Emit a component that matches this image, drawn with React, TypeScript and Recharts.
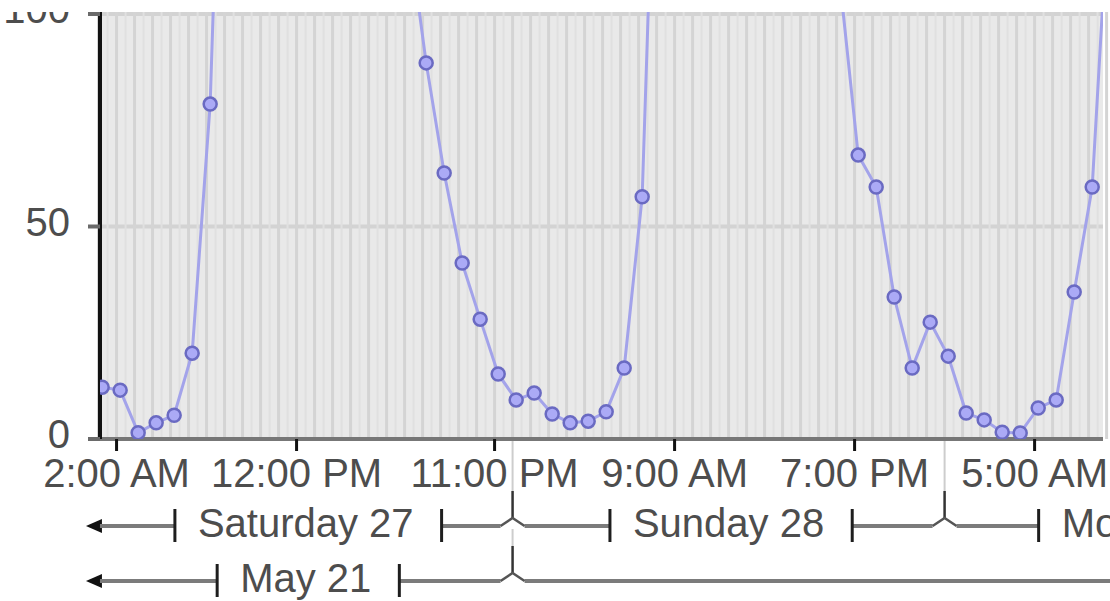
import React from 'react';
import { ComposedChart, Line, XAxis, YAxis, CartesianGrid } from 'recharts';

// hourly samples, taken 12 minutes past each hour, first one Sat 27 at 01:12
// (x values are hours counted from Saturday 00:00)
const FIRST_SAMPLE = 1.2;
const counts = [
  12.2, 11.5, 1.5, 3.8, 5.6, 20.2, 78.8,
  209, 262, 300, 322, 331, 326, 311, 284, 243, 181, 120,
  88.5, 62.6, 41.4, 28.2, 15.3, 9.2, 10.8, 5.9, 3.8, 4.2, 6.4, 16.7, 57.0,
  187, 251, 298, 318, 327, 321, 302, 263, 212, 158, 107,
  66.8, 59.3, 33.4, 16.7, 27.5, 19.5, 6.1, 4.5, 1.6, 1.4, 7.3, 9.2, 34.6, 59.3, 133,
];

const timeTicks = [2, 12, 23, 33, 43, 53];
const timeTickLabels = ['2:00 AM', '12:00 PM', '11:00 PM', '9:00 AM', '7:00 PM', '5:00 AM'];
const yTicks = [0, 50, 100];

const dayLabels = ['Saturday 27', 'Sunday 28', 'Monday 29'];
const dayStarts = [0, 24, 48];
const weekLabels = ['May 21', 'May 28'];
const weekStarts = [-144, 24];

const data = counts.map((v, i) => ({ t: FIRST_SAMPLE + i, v }));

// layout
const W = 1110;
const H = 620;
const PLOT_LEFT = 100;
const PLOT_RIGHT = 1103;
const PLOT_BOTTOM = 445;
const X_MIN = 1.08;
const X_MAX = 56.8;
const PXH = (PLOT_RIGHT - PLOT_LEFT) / (X_MAX - X_MIN);
const ARROW_TIP_H = 0.3;
const ARROW_END_H = 1.02;

const FONT = '"Liberation Sans", Arial, sans-serif';
const FONT_SIZE = 40;
const TEXT = '#4d4d4d';

const hourLines = Array.from({ length: 57 }, (_, i) => i + 1);
const halfLines = hourLines.map((h) => h + 0.5);

type Band = { label: string; start: number; end: number };
const dayBands: Band[] = dayLabels.map((label, i) => ({ label, start: dayStarts[i], end: dayStarts[i] + 24 }));
const weekBands: Band[] = weekLabels.map((label, i) => ({ label, start: weekStarts[i], end: weekStarts[i] + 168 }));

const bandCenter = (b: Band) => (Math.max(b.start, ARROW_END_H) + b.end) / 2;
const bandTicks = (bands: Band[]) => [
  ...bands.map(bandCenter),
  ...bands.slice(1).map((b) => b.start).filter((h) => h > X_MIN && h < X_MAX),
];

let ctx: CanvasRenderingContext2D | null = null;
const textWidth = (s: string) => {
  if (!ctx) ctx = document.createElement('canvas').getContext('2d');
  if (!ctx) return s.length * FONT_SIZE * 0.5;
  ctx.font = `${FONT_SIZE}px "Liberation Sans", Arial`;
  return ctx.measureText(s).width;
};

const TimeTick = ({ x, y, payload }: any) => {
  const i = timeTicks.indexOf(payload.value);
  return (
    <text x={x} y={y + 36} textAnchor="middle" fill={TEXT} fontSize={FONT_SIZE} fontFamily={FONT}>
      {timeTickLabels[i]}
    </text>
  );
};

const ValueTick = ({ x, y, payload }: any) => (
  <text x={x} y={y + 9} textAnchor="end" fill={TEXT} fontSize={FONT_SIZE} fontFamily={FONT}>
    {payload.value}
  </text>
);

const BandTick = ({ x, y, payload, bands, guideFrom }: any) => {
  const v = payload.value;
  const band = bands.find((b: Band) => Math.abs(bandCenter(b) - v) < 1e-6);
  const hx = (h: number) => x + (h - v) * PXH;
  const lineY = y + 32;

  if (!band) {
    // boundary between two periods
    return (
      <g>
        <line x1={x} x2={x} y1={guideFrom} y2={y - 3} stroke="#cdcdcd" strokeWidth={2} />
        <line x1={x} x2={x} y1={y - 3} y2={y + 24} stroke="#333" strokeWidth={2.5} />
        <polyline
          points={`${x - 12},${lineY} ${x},${y + 24} ${x + 12},${lineY}`}
          fill="none"
          stroke="#555"
          strokeWidth={2.5}
        />
      </g>
    );
  }

  const w = textWidth(band.label);
  const lb = x - w / 2 - 23;
  const rb = x + w / 2 + 28;
  const clipped = band.start < X_MIN;
  const tip = hx(ARROW_TIP_H);
  const leftEnd = clipped ? tip + 14 : hx(band.start) + 12;
  const rightEnd = hx(band.end) - 12;

  return (
    <g>
      {clipped && (
        <polygon points={`${tip},${lineY} ${tip + 16},${lineY - 7} ${tip + 16},${lineY + 7}`} fill="#111" />
      )}
      <line x1={leftEnd} x2={lb} y1={lineY} y2={lineY} stroke="#7b7b7b" strokeWidth={4} />
      {rightEnd > rb && <line x1={rb} x2={rightEnd} y1={lineY} y2={lineY} stroke="#7b7b7b" strokeWidth={4} />}
      <line x1={lb} x2={lb} y1={lineY - 17} y2={lineY + 16} stroke="#1e1e1e" strokeWidth={3} />
      <line x1={rb} x2={rb} y1={lineY - 17} y2={lineY + 16} stroke="#1e1e1e" strokeWidth={3} />
      <text x={x} y={y + 43} textAnchor="middle" fill={TEXT} fontSize={FONT_SIZE} fontFamily={FONT}>
        {band.label}
      </text>
    </g>
  );
};

export default function App() {
  return (
    <div
      style={{
        position: 'absolute',
        left: 0,
        top: 12,
        width: W,
        height: 589,
        overflow: 'hidden',
        background: '#fff',
      }}
    >
      <div style={{ position: 'absolute', left: 0, top: -18 }}>
        <ComposedChart width={W} height={H} data={data} margin={{ top: 3, right: W - PLOT_RIGHT, bottom: 10, left: 0 }}>
          <CartesianGrid fill="#e9e9e9" vertical={false} horizontalValues={yTicks} stroke="#d3d3d3" strokeWidth={4} />
          <CartesianGrid horizontal={false} verticalValues={halfLines} stroke="#e0e0e0" strokeWidth={2} />
          <CartesianGrid horizontal={false} verticalValues={hourLines} stroke="#d4d4d4" strokeWidth={3} />
          <Line
            type="linear"
            dataKey="v"
            stroke="#a3a3ea"
            strokeWidth={3}
            dot={{ r: 6.5, fill: '#abaaf6', stroke: '#6a6ac2', strokeWidth: 2.5 }}
            activeDot={false}
            isAnimationActive={false}
          />
          <XAxis
            dataKey="t"
            type="number"
            domain={[X_MIN, X_MAX]}
            allowDataOverflow
            ticks={timeTicks}
            interval={0}
            tickSize={12}
            tickMargin={0}
            tickLine={{ stroke: '#111', strokeWidth: 3 }}
            axisLine={{ stroke: '#777', strokeWidth: 4 }}
            tick={TimeTick}
            height={55}
          />
          <XAxis
            xAxisId="day"
            dataKey="t"
            type="number"
            domain={[X_MIN, X_MAX]}
            allowDataOverflow
            ticks={bandTicks(dayBands)}
            interval={0}
            axisLine={false}
            tickLine={false}
            tickSize={0}
            tickMargin={0}
            tick={(p: any) => <BandTick {...p} bands={dayBands} guideFrom={PLOT_BOTTOM + 2} />}
            height={55}
          />
          <XAxis
            xAxisId="week"
            dataKey="t"
            type="number"
            domain={[X_MIN, X_MAX]}
            allowDataOverflow
            ticks={bandTicks(weekBands)}
            interval={0}
            axisLine={false}
            tickLine={false}
            tickSize={0}
            tickMargin={0}
            tick={(p: any) => <BandTick {...p} bands={weekBands} guideFrom={PLOT_BOTTOM + 90} />}
            height={55}
          />
          <YAxis
            type="number"
            domain={[0, 104]}
            allowDataOverflow
            ticks={yTicks}
            interval={0}
            width={PLOT_LEFT}
            tickSize={12}
            tickMargin={18}
            tickLine={{ stroke: '#6a6a6a', strokeWidth: 4 }}
            axisLine={{ stroke: '#111', strokeWidth: 4 }}
            tick={ValueTick}
          />
        </ComposedChart>
      </div>
    </div>
  );
}
